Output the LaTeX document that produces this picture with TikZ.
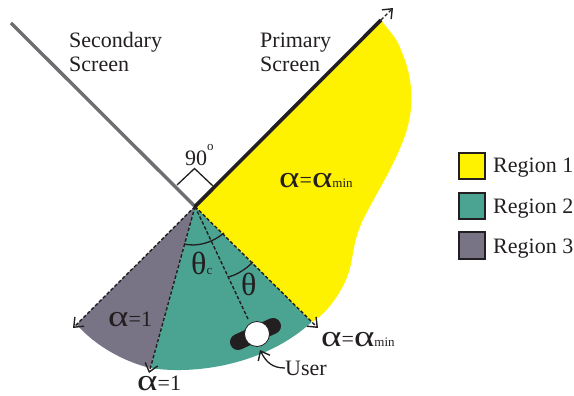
\documentclass[tikz,border=0pt]{standalone}
\usepackage{fontspec}
\usepackage{graphicx}
\setmainfont{Liberation Serif}
\usetikzlibrary{arrows.meta,calc}
\definecolor{ryellow}{HTML}{FFF200}
\definecolor{rteal}{HTML}{4BA491}
\definecolor{rgray}{HTML}{787486}
\definecolor{ink}{HTML}{231F20}
\definecolor{screen}{HTML}{6D6E71}
\tikzset{
  lab/.style={inner sep=0pt,text=ink,font=\fontsize{22}{24}\selectfont},
  greek/.style={inner sep=0pt,text=ink,font=\fontsize{30}{32}\selectfont},
  barb/.style={-{Straight Barb[length=8pt,width=13pt,line width=1.4pt]}},
  ray/.style={draw=ink,line width=1.4pt,dash pattern=on 3.5pt off 2pt},
  thin line/.style={draw=ink,line width=1.3pt},
  swatch/.style={draw=ink,line width=1.6pt,minimum size=26.5pt,inner sep=0pt}
}
\newcommand{\sm}[1]{{\fontsize{13}{14}\selectfont #1}}
\newcommand{\eqn}[1]{{\fontsize{22}{24}\selectfont #1}}
\newcommand{\wa}{\scalebox{1.3}[1]{α}}
\begin{document}
\begin{tikzpicture}[x=1pt,y=-1pt]
\useasboundingbox (0,0) rectangle (574,396);
\coordinate (O) at (195,206.5);
\coordinate (P) at (381,20);
\coordinate (Ptip) at (393,8);
\coordinate (S) at (11,23);
\coordinate (TR) at (318,328);
\coordinate (TB) at (149,373);
\coordinate (TL) at (73,328);
\coordinate (TU) at (248,319);
\coordinate (ER) at ($(O)!0.95!(TR)$);
\coordinate (EB) at ($(O)!0.97!(TB)$);
\coordinate (EL) at ($(O)!0.97!(TL)$);
% regions
\fill[rgray] (O) -- (EL) .. controls (95,346) and (125,362) .. (EB) -- cycle;
\fill[rteal] (O) -- (EB) .. controls (195,375) and (265,365) .. (ER) -- cycle;
\fill[ryellow] (O) -- (P) .. controls (390,32) and (397,38) .. (401,50)
  .. controls (413,78) and (416,108) .. (403,141)
  .. controls (391,172) and (375,195) .. (362,222)
  .. controls (350,250) and (355,260) .. (345,282)
  .. controls (338,297) and (325,315) .. (ER) -- cycle;
% screens
\draw[screen,line width=3.4pt] (O) -- (S);
\draw[ink,line width=3.6pt] (O) -- (P);
\draw[ray,barb] (P) -- (Ptip);
% right angle
\draw[thin line] (177,185) -- (194.5,168.5) -- (213,186);
% rays
\draw[ray,barb] (O) -- (TR);
\draw[ray,barb] (O) -- (TB);
\draw[ray,barb] (O) -- (TL);
\draw[ray] (O) -- (TU);
% angle arcs
\draw[thin line] (184,244) .. controls (197,247) and (212,243) .. (224,233);
\draw[thin line] (228,277) .. controls (237,275) and (246,269) .. (253,262);
% user
\draw[ink,line width=16pt,line cap=round] (238,342) -- (273,326);
\node[circle,fill=white,draw=ink,line width=0.8pt,minimum size=25pt,inner sep=0pt] (user) at (257,334) {};
\node[lab,anchor=base west] (userlab) at (285,375) {User};
\draw[thin line,barb] (285,368) .. controls (272,368) and (266,362) .. (260,350);
% labels
\node[lab,align=left,anchor=base west] (sec) at (69,72) {Secondary\\Screen};
\node[lab,align=left,anchor=base west] (pri) at (260,72) {Primary\\Screen};
\node[lab,anchor=base west] (ninety) at (185,166) {90};
\node[inner sep=0pt,text=ink,font=\fontsize{13}{14}\selectfont,anchor=base west] (deg) at (207,150) {o};
\node[greek,anchor=base west] (a1) at (279,187) {\wa\eqn{=}\wa\sm{min}};
\node[greek,anchor=base west] (a2) at (321,346) {\wa\eqn{=}\wa\sm{min}};
\node[greek,anchor=base west] (a3) at (108,326) {\wa\eqn{=1}};
\node[greek,anchor=base west] (a4) at (137,390) {\wa\eqn{=1}};
\node[greek,anchor=base west] (tc) at (191,274) {\scalebox{1.07}{θ}\sm{c}};
\node[greek,anchor=base west] (t) at (241,295) {\scalebox{1.07}{θ}};
% legend
\node[swatch,fill=ryellow] (k1) at (472,166) {};
\node[swatch,fill=rteal] (k2) at (472,206) {};
\node[swatch,fill=rgray] (k3) at (472,245.5) {};
\node[lab,anchor=base west] (l1) at (493,173) {Region 1};
\node[lab,anchor=base west] (l2) at (493,213) {Region 2};
\node[lab,anchor=base west] (l3) at (493,253) {Region 3};
\end{tikzpicture}
\end{document}
